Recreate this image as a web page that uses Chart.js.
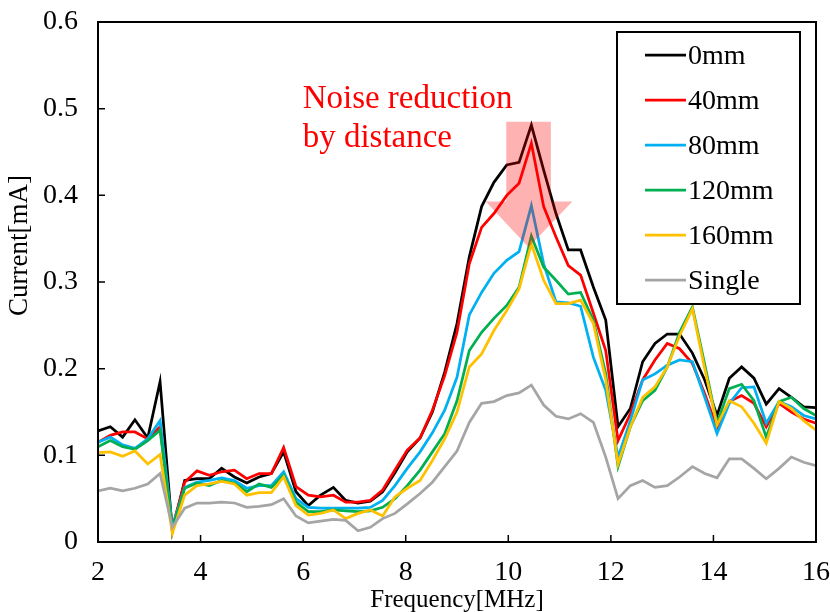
<!DOCTYPE html>
<html lang="en">
<head>
<meta charset="utf-8">
<title>Current vs frequency</title>
<script src="https://cdn.jsdelivr.net/npm/chart.js@4.4.1/dist/chart.umd.min.js"></script>
<style>
  html, body { margin: 0; padding: 0; background: #fff; }
  #wrap { width: 830px; height: 612px; }
</style>
</head>
<body>
<div id="wrap"><canvas id="chart" width="830" height="612"></canvas></div>
<script>
// frequency points [MHz]
const freqs = [2.00, 2.24, 2.48, 2.72, 2.97, 3.21, 3.45, 3.69, 3.93, 4.17,
  4.41, 4.66, 4.90, 5.14, 5.38, 5.62, 5.86, 6.10, 6.34, 6.59,
  6.83, 7.07, 7.31, 7.55, 7.79, 8.03, 8.28, 8.52, 8.76, 9.00,
  9.24, 9.48, 9.72, 9.97, 10.21, 10.45, 10.69, 10.93, 11.17, 11.41,
  11.66, 11.90, 12.14, 12.38, 12.62, 12.86, 13.10, 13.34, 13.59, 13.83,
  14.07, 14.31, 14.55, 14.79, 15.03, 15.28, 15.52, 15.76, 16.00];

// current [mA]
const mm0 = [0.128, 0.133, 0.121, 0.141, 0.120, 0.185, 0.012, 0.071, 0.073, 0.073,
  0.085, 0.075, 0.068, 0.075, 0.079, 0.104, 0.058, 0.042, 0.054, 0.063,
  0.048, 0.045, 0.047, 0.058, 0.080, 0.104, 0.120, 0.150, 0.196, 0.252,
  0.329, 0.387, 0.415, 0.435, 0.438, 0.481, 0.429, 0.379, 0.337, 0.337,
  0.294, 0.256, 0.133, 0.154, 0.208, 0.229, 0.240, 0.240, 0.218, 0.187,
  0.146, 0.189, 0.202, 0.189, 0.159, 0.177, 0.167, 0.156, 0.155];
const mm40 = [0.115, 0.123, 0.127, 0.127, 0.119, 0.133, 0.017, 0.069, 0.082, 0.077,
  0.081, 0.083, 0.073, 0.079, 0.079, 0.109, 0.064, 0.054, 0.052, 0.054,
  0.046, 0.046, 0.048, 0.060, 0.083, 0.106, 0.120, 0.152, 0.192, 0.242,
  0.321, 0.363, 0.379, 0.400, 0.414, 0.460, 0.387, 0.352, 0.319, 0.308,
  0.264, 0.221, 0.117, 0.148, 0.187, 0.210, 0.229, 0.223, 0.206, 0.171,
  0.131, 0.162, 0.169, 0.160, 0.133, 0.160, 0.150, 0.142, 0.137];
const mm80 = [0.115, 0.121, 0.112, 0.108, 0.119, 0.140, 0.017, 0.063, 0.069, 0.071,
  0.074, 0.071, 0.062, 0.065, 0.065, 0.081, 0.050, 0.040, 0.039, 0.039,
  0.039, 0.039, 0.040, 0.048, 0.065, 0.085, 0.104, 0.126, 0.152, 0.190,
  0.262, 0.288, 0.310, 0.325, 0.335, 0.388, 0.321, 0.277, 0.276, 0.272,
  0.213, 0.175, 0.098, 0.140, 0.187, 0.194, 0.204, 0.210, 0.208, 0.167,
  0.125, 0.160, 0.178, 0.179, 0.137, 0.162, 0.156, 0.146, 0.142];
const mm120 = [0.110, 0.117, 0.110, 0.107, 0.117, 0.129, 0.015, 0.062, 0.068, 0.065,
  0.071, 0.068, 0.058, 0.067, 0.063, 0.077, 0.046, 0.035, 0.035, 0.037,
  0.036, 0.035, 0.036, 0.040, 0.050, 0.065, 0.083, 0.104, 0.125, 0.163,
  0.221, 0.242, 0.258, 0.273, 0.294, 0.353, 0.317, 0.302, 0.286, 0.288,
  0.256, 0.194, 0.087, 0.133, 0.163, 0.175, 0.202, 0.242, 0.271, 0.205,
  0.137, 0.177, 0.182, 0.163, 0.121, 0.162, 0.167, 0.154, 0.146];
const mm160 = [0.103, 0.104, 0.099, 0.105, 0.090, 0.101, 0.010, 0.054, 0.065, 0.067,
  0.070, 0.067, 0.054, 0.057, 0.057, 0.075, 0.042, 0.031, 0.033, 0.037,
  0.027, 0.033, 0.037, 0.030, 0.052, 0.062, 0.071, 0.094, 0.119, 0.150,
  0.202, 0.217, 0.244, 0.267, 0.292, 0.344, 0.302, 0.275, 0.275, 0.279,
  0.252, 0.187, 0.090, 0.133, 0.167, 0.179, 0.202, 0.238, 0.269, 0.200,
  0.135, 0.163, 0.156, 0.137, 0.114, 0.162, 0.154, 0.140, 0.129];
const single = [0.059, 0.062, 0.059, 0.062, 0.067, 0.079, 0.017, 0.039, 0.045, 0.045,
  0.046, 0.045, 0.040, 0.041, 0.043, 0.050, 0.030, 0.022, 0.024, 0.026,
  0.025, 0.013, 0.017, 0.027, 0.033, 0.044, 0.056, 0.069, 0.087, 0.105,
  0.138, 0.160, 0.162, 0.169, 0.172, 0.181, 0.158, 0.145, 0.142, 0.148,
  0.138, 0.098, 0.050, 0.065, 0.071, 0.063, 0.065, 0.075, 0.087, 0.079,
  0.074, 0.096, 0.096, 0.085, 0.073, 0.085, 0.098, 0.092, 0.088];

const seriesNames = ['0mm', '40mm', '80mm', '120mm', '160mm', 'Single'];
const seriesData = [mm0, mm40, mm80, mm120, mm160, single];
const seriesColors = ['#000000', '#ff0000', '#00b0f0', '#00b050', '#ffc000', '#a5a5a5'];

const xTicks = [2, 4, 6, 8, 10, 12, 14, 16];
const yTicks = [0, 0.1, 0.2, 0.3, 0.4, 0.5, 0.6];

// the pink arrow, in data units
const arrowShaft = { x0: 9.96, x1: 10.83, yTop: 0.485 };
const arrowHead = { x0: 9.56, x1: 11.25, yBase: 0.393, tipX: 10.395, tipY: 0.340 };
const noteLines = ['Noise reduction', 'by distance'];

const FONT = "'Liberation Serif', 'Times New Roman', serif";

const datasets = seriesNames.map(function (name, k) {
  return {
    label: name,
    data: freqs.map(function (f, i) { return { x: f, y: seriesData[k][i] }; }),
    borderColor: seriesColors[k],
    backgroundColor: seriesColors[k],
    borderWidth: 2.75,
    pointRadius: 0,
    tension: 0,
    order: seriesNames.length - k
  };
});

// no extra room for overflowing tick labels: the plot box is fixed
function noPad(s) {
  s.paddingLeft = 0; s.paddingRight = 0; s.paddingTop = 0; s.paddingBottom = 0;
}

const extras = {
  id: 'extras',
  afterDatasetsDraw(chart) {
    const ctx = chart.ctx;
    const a = chart.chartArea;
    const xs = chart.scales.x, ys = chart.scales.y;

    // arrow
    ctx.save();
    ctx.fillStyle = 'rgba(255,0,0,0.3)';
    ctx.beginPath();
    ctx.moveTo(xs.getPixelForValue(arrowShaft.x0), ys.getPixelForValue(arrowShaft.yTop));
    ctx.lineTo(xs.getPixelForValue(arrowShaft.x1), ys.getPixelForValue(arrowShaft.yTop));
    ctx.lineTo(xs.getPixelForValue(arrowShaft.x1), ys.getPixelForValue(arrowHead.yBase));
    ctx.lineTo(xs.getPixelForValue(arrowHead.x1), ys.getPixelForValue(arrowHead.yBase));
    ctx.lineTo(xs.getPixelForValue(arrowHead.tipX), ys.getPixelForValue(arrowHead.tipY));
    ctx.lineTo(xs.getPixelForValue(arrowHead.x0), ys.getPixelForValue(arrowHead.yBase));
    ctx.lineTo(xs.getPixelForValue(arrowShaft.x0), ys.getPixelForValue(arrowHead.yBase));
    ctx.closePath();
    ctx.fill();

    // note text
    ctx.fillStyle = '#ff0000';
    ctx.font = '33px ' + FONT;
    ctx.textAlign = 'left';
    ctx.textBaseline = 'middle';
    ctx.fillText(noteLines[0], xs.getPixelForValue(5.99), ys.getPixelForValue(0.511));
    ctx.fillText(noteLines[1], xs.getPixelForValue(5.99), ys.getPixelForValue(0.466));

    // frame
    ctx.strokeStyle = '#000';
    ctx.lineWidth = 2;
    ctx.strokeRect(a.left, a.top, a.right - a.left, a.bottom - a.top);

    // inside ticks
    ctx.lineWidth = 1.5;
    ctx.beginPath();
    xTicks.forEach(function (t) {
      const px = xs.getPixelForValue(t);
      ctx.moveTo(px, a.bottom);
      ctx.lineTo(px, a.bottom - 7);
    });
    yTicks.forEach(function (t) {
      const py = ys.getPixelForValue(t);
      ctx.moveTo(a.left, py);
      ctx.lineTo(a.left + 7, py);
    });
    ctx.stroke();

    // legend box
    const lx = 617, ly = 32, lw = 183, lh = 272;
    ctx.fillStyle = '#fff';
    ctx.fillRect(lx, ly, lw, lh);
    ctx.lineWidth = 2;
    ctx.strokeRect(lx, ly, lw, lh);
    ctx.font = '28px ' + FONT;
    ctx.textBaseline = 'middle';
    chart.data.datasets.forEach(function (ds, k) {
      const cy = 57 + k * 45;
      ctx.strokeStyle = ds.borderColor;
      ctx.lineWidth = 2.75;
      ctx.beginPath();
      ctx.moveTo(645, cy - 2);
      ctx.lineTo(686, cy - 2);
      ctx.stroke();
      ctx.fillStyle = '#000';
      ctx.fillText(ds.label, 688, cy);
    });

    // axis titles
    ctx.fillStyle = '#000';
    ctx.textAlign = 'center';
    ctx.font = '25px ' + FONT;
    ctx.fillText('Frequency[MHz]', (a.left + a.right) / 2, 600);
    ctx.font = '27px ' + FONT;
    ctx.save();
    ctx.translate(20, a.top + 0.43 * (a.bottom - a.top));
    ctx.rotate(-Math.PI / 2);
    ctx.fillText('Current[mA]', 0, 0);
    ctx.restore();
    ctx.restore();
  }
};

new Chart(document.getElementById('chart'), {
  type: 'line',
  data: { datasets: datasets },
  options: {
    responsive: false,
    animation: false,
    layout: { padding: { top: 22, right: 14, left: 0, bottom: 0 } },
    plugins: { legend: { display: false }, tooltip: { enabled: false } },
    scales: {
      x: {
        type: 'linear',
        min: 2, max: 16,
        afterFit: function (s) { s.height = 70; noPad(s); },
        afterBuildTicks: function (s) { s.ticks = xTicks.map(function (v) { return { value: v }; }); },
        grid: { display: false, drawTicks: false },
        border: { display: false },
        ticks: { padding: 14, color: '#000', font: { family: FONT, size: 28 }, maxRotation: 0 }
      },
      y: {
        min: 0, max: 0.6,
        afterFit: function (s) { s.width = 98; noPad(s); },
        afterBuildTicks: function (s) { s.ticks = yTicks.map(function (v) { return { value: v }; }); },
        grid: { display: false, drawTicks: false },
        border: { display: false },
        ticks: { padding: 20, color: '#000', font: { family: FONT, size: 28 },
          callback: function (v) { return String(Math.round(v * 10) / 10); } }
      }
    }
  },
  plugins: [extras]
});
</script>
</body>
</html>
